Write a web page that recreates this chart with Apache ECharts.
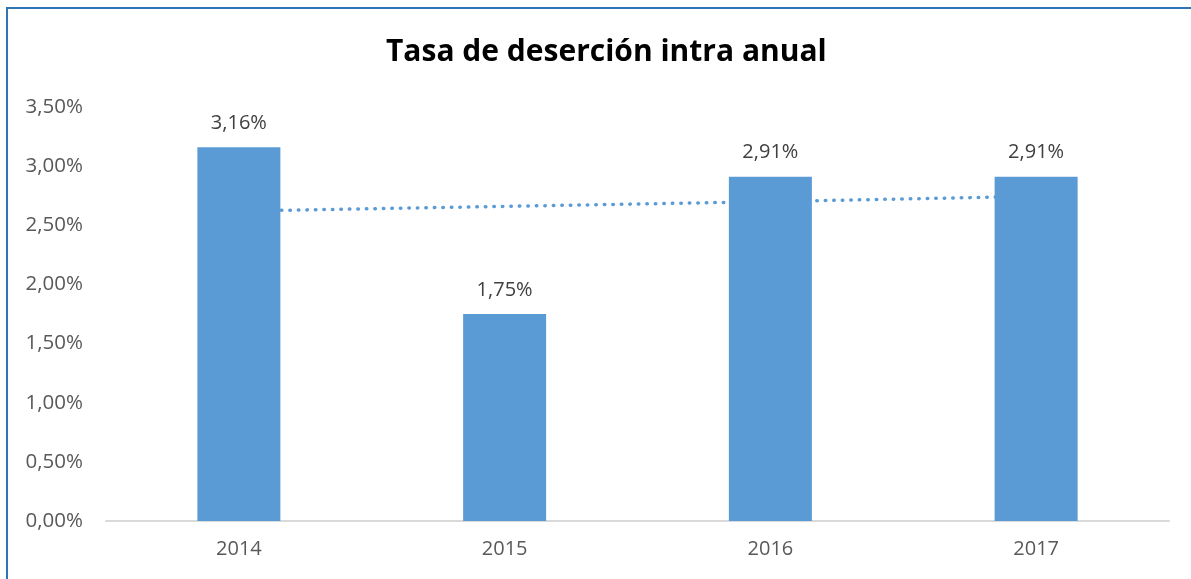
<!DOCTYPE html>
<html>
<head>
<meta charset="utf-8">
<script src="https://cdn.jsdelivr.net/npm/echarts@6/dist/echarts.min.js"></script>
<style>
  body { margin: 0; background: #fff; }
  #frame { position: absolute; left: 6px; top: 7px; width: 1185px; height: 572px;
           border-left: 2px solid #2e75b6; border-top: 2px solid #2e75b6; }
  #main { position: absolute; left: 0; top: 0; width: 1191px; height: 579px; }
</style>
</head>
<body>
<div id="frame"></div>
<div id="main"></div>
<script>
var years = ['2014', '2015', '2016', '2017'];
var tasa = [3.16, 1.75, 2.91, 2.91];
// linea de tendencia
var tendencia = [2.62, 2.66, 2.70, 2.745];

function pct(v) {
    return v.toFixed(2).replace('.', ',') + '%';
}

var chart = echarts.init(document.getElementById('main'));

var option = {
    animation: false,
    title: {
        text: 'Tasa de deserción intra anual',
        left: 381,
        top: 32,
        textStyle: { fontFamily: 'Open Sans', fontWeight: 'bold', fontSize: 30, color: '#000' }
    },
    grid: { left: 106, right: 22, top: 107, bottom: 58 },
    xAxis: {
        type: 'category',
        data: years,
        axisTick: { show: false },
        axisLine: { lineStyle: { color: '#d9d9d9', width: 2 } },
        axisLabel: { fontFamily: 'Open Sans', fontSize: 20, color: '#595959', margin: 18 }
    },
    yAxis: {
        type: 'value',
        min: 0,
        max: 3.5,
        interval: 0.5,
        splitLine: { show: false },
        axisLine: { show: false },
        axisLabel: { fontFamily: 'Open Sans', fontSize: 20.5, color: '#595959', margin: 23, formatter: pct }
    },
    series: [
        {
            type: 'bar',
            data: tasa,
            barWidth: 83,
            z: 3,
            itemStyle: { color: '#5b9bd5' },
            label: {
                show: true,
                position: 'top',
                distance: 14,
                fontFamily: 'Open Sans',
                fontSize: 20,
                color: '#404040',
                formatter: function (p) { return pct(p.value); }
            }
        },
        {
            type: 'line',
            data: tendencia,
            symbol: 'none',
            z: 1,
            lineStyle: { color: '#5b9bd5', width: 3.5, type: [0.5, 8], cap: 'round' }
        }
    ]
};

chart.setOption(option);
</script>
</body>
</html>
